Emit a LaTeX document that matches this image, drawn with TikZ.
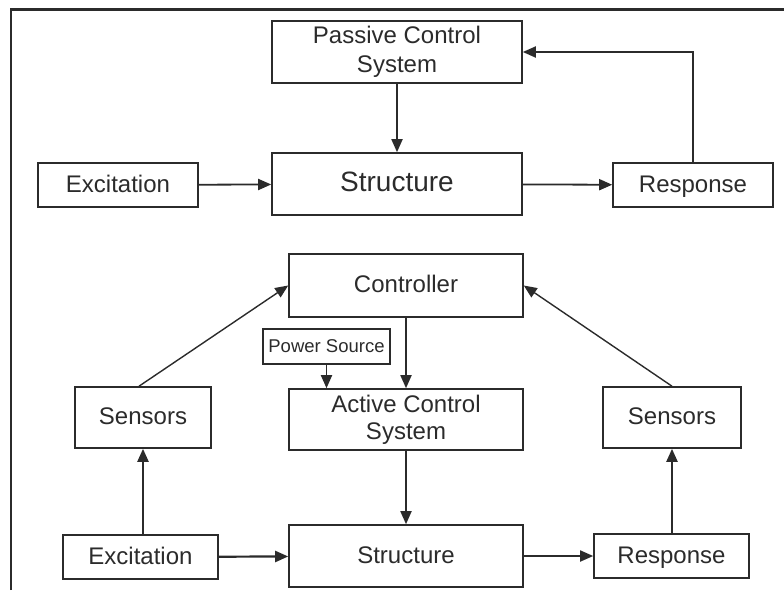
\documentclass[tikz,border=0pt]{standalone}
\usepackage{fontspec}
\setmainfont{Liberation Sans}
\usetikzlibrary{arrows.meta}
\definecolor{ink}{HTML}{2B2B2B}
\tikzset{
  box/.style={draw=ink,line width=1.6pt,text=ink,align=center,inner sep=0pt,
    font=\fontsize{24}{27}\selectfont},
  oneline/.style={box,text height=18pt,text depth=4pt},
  arr/.style={draw=ink,line width=1.8pt,-{Triangle[length=13pt,width=11pt]}}
}
\begin{document}
\begin{tikzpicture}[x=1pt,y=-1pt]
      \useasboundingbox (0,0) rectangle (784,590);
      \draw[ink,line width=2.2pt] (11,590) -- (11,9.5) -- (784,9.5);
      % passive control
      \node[box,minimum width=250pt,minimum height=62pt,font=\fontsize{24}{29}\selectfont] (passive) at (397,52) {Passive Control\\System};
      \node[oneline,minimum width=250pt,minimum height=62pt,font=\fontsize{28}{32}\selectfont] (struct1) at (397,184) {Structure};
      \node[oneline,minimum width=160pt,minimum height=44pt] (exc1) at (118,185) {Excitation};
      \node[oneline,minimum width=160pt,minimum height=44pt] (resp1) at (693,185) {Response};
      \draw[arr] (passive) -- (struct1);
      \draw[arr] (exc1) -- (struct1);
      \draw[arr] (struct1) -- (resp1);
      \draw[arr] (resp1.north) |- (passive.east);
      % active control
      \node[oneline,minimum width=234pt,minimum height=63pt] (ctrl) at (406,285.5) {Controller};
      \node[oneline,line width=2.6pt,minimum width=127pt,minimum height=35pt,text height=16pt,font=\fontsize{18.5}{20}\selectfont] (power) at (326.5,346.5) {Power Source};
      \node[box,minimum width=234pt,minimum height=61pt] (active) at (406,419.5) {Active Control\\System};
      \node[oneline,minimum width=136pt,minimum height=61pt] (sens1) at (143,417.5) {Sensors};
      \node[oneline,minimum width=138pt,minimum height=61pt] (sens2) at (672,417.5) {Sensors};
      \node[oneline,minimum width=234pt,minimum height=62pt] (struct2) at (406,556) {Structure};
      \node[oneline,minimum width=155pt,minimum height=44pt] (exc2) at (140.5,557) {Excitation};
      \node[oneline,minimum width=155pt,minimum height=44pt] (resp2) at (671.5,556) {Response};
      \draw[arr] (ctrl) -- (ctrl |- active.north);
      \draw[arr] (power) -- (power |- active.north);
      \draw[arr,line width=1.4pt] ([xshift=-4pt]sens1.north) -- (ctrl.west);
      \draw[arr,line width=1.4pt] (sens2.north) -- (ctrl.east);
      \draw[arr] (active) -- (struct2);
      \draw[arr,line width=2.2pt] (sens1.south |- exc2.north) -- (sens1.south);
      \draw[arr,line width=2.2pt] (exc2) -- (struct2);
      \draw[arr] (struct2) -- (resp2);
      \draw[arr,line width=2.2pt] (resp2.north -| sens2.south) -- (sens2.south);
    \end{tikzpicture}
\end{document}
